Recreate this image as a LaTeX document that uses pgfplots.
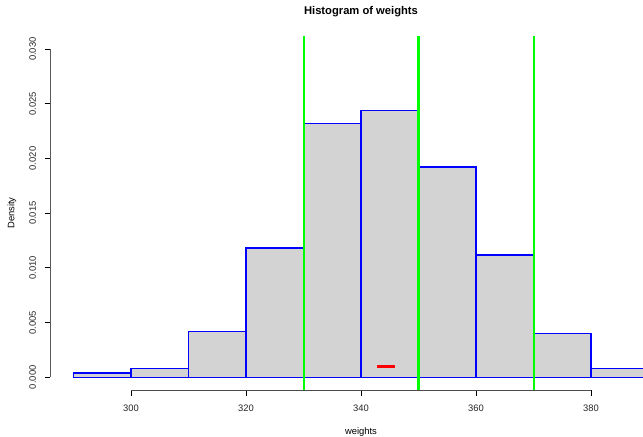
\documentclass[border=0pt]{standalone}
\usepackage{fontspec}
\setmainfont{Liberation Sans}
\usepackage{pgfplots}
\pgfplotsset{compat=1.18}
\definecolor{rgreen}{RGB}{0,255,0}
\definecolor{rblue}{RGB}{0,0,255}
\definecolor{rgray}{RGB}{211,211,211}
\begin{document}
\begin{tikzpicture}[x=1bp,y=1bp]
\begin{axis}[
  scale only axis,
  at={(0,0)}, anchor=south west,
  width=592.5bp, height=354.4bp,
  xmin=286, xmax=389.04,
  ymin=-0.0012, ymax=0.0312,
  axis line style={draw=none},
  xtick={300,320,340,360,380},
  ytick={0,0.005,0.010,0.015,0.020,0.025,0.030},
  xtick pos=bottom, ytick pos=left,
  tick align=outside,
  major tick length=6bp,
  tick style={black, line width=0.8bp},
  /pgf/number format/assume math mode=true,
  ticklabel style={font=\fontsize{9.4bp}{11bp}\selectfont, text=black!85},
  yticklabel style={rotate=90, anchor=south},
  yticklabel shift=5bp,
  xticklabel shift=5bp,
  xticklabel style={/pgf/number format/1000 sep={}},
  yticklabel={\pgfmathprintnumber[fixed,precision=3,zerofill]{\tick}},
  scaled y ticks=false,
  clip=true,
]
\addplot[ybar interval, fill=rgray, draw=rblue, line width=1.5bp]
  coordinates {(290,0.0004) (300,0.0008) (310,0.0042) (320,0.0118) (330,0.0232) (340,0.0244) (350,0.0192) (360,0.0112) (370,0.0040) (380,0.0008) (390,0.0008)};
\addplot[draw=rgreen, line width=2bp, no marks] coordinates {(330,-0.0012) (330,0.0312)};
\addplot[draw=rgreen, line width=2.8bp, no marks] coordinates {(350,-0.0012) (350,0.0312)};
\addplot[draw=rgreen, line width=2bp, no marks] coordinates {(370,-0.0012) (370,0.0312)};
\addplot[draw=red, line width=2.5bp, no marks] coordinates {(342.8,0.001) (345.9,0.001)};
\draw[black!70, line width=0.9bp] (axis cs:300,-0.0012) -- (axis cs:380,-0.0012);
\draw[black, line width=0.9bp] (axis cs:286,0) -- (axis cs:286,0.030);
\end{axis}
\node[font=\fontsize{11.2bp}{13bp}\selectfont\bfseries] at (310.5,378.4) {Histogram of weights};
\node[font=\fontsize{9.4bp}{11bp}\selectfont] at (310.5,-41.6) {weights};
\node[font=\fontsize{9.4bp}{11bp}\selectfont, rotate=90] at (-38.5,177.4) {Density};
\pgfresetboundingbox
\path[use as bounding box] (-50.5,-46.6) rectangle (592.5,390.4);
\end{tikzpicture}
\end{document}
